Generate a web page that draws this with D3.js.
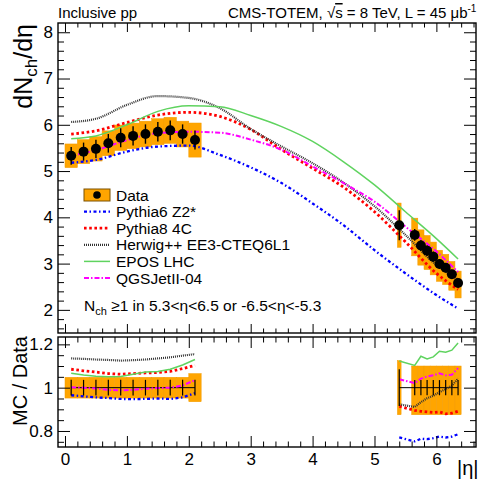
<!DOCTYPE html>
<html>
<head>
<meta charset="utf-8">
<script src="https://cdn.jsdelivr.net/npm/d3@7"></script>
<style>
body { margin: 0; background: #fff; }
text { font-family: "Liberation Sans", Arial, Helvetica, sans-serif; }
</style>
</head>
<body>
<div id="chart"></div>
<script>
// measured data, central region (|eta| < 2.2, bins of 0.2)
var etaCentral = [0.1, 0.3, 0.5, 0.7, 0.9, 1.1, 1.3, 1.5, 1.7, 1.9, 2.1];
var dataCentral = [5.33, 5.42, 5.48, 5.60, 5.72, 5.76, 5.80, 5.85, 5.88, 5.80, 5.67];
var binCentral = [0.2, 0.2, 0.2, 0.2, 0.2, 0.2, 0.2, 0.2, 0.2, 0.2, 0.2];
var sysCentralUp = [0.048, 0.048, 0.048, 0.048, 0.048, 0.048, 0.048, 0.048, 0.048, 0.048, 0.065];
var sysCentralDn = [0.048, 0.048, 0.048, 0.048, 0.048, 0.048, 0.048, 0.048, 0.048, 0.048, 0.065];
var statCentral = [0.036, 0.036, 0.036, 0.036, 0.036, 0.036, 0.036, 0.036, 0.036, 0.036, 0.036];

// measured data, forward region (TOTEM T2)
var etaForward = [5.4, 5.65, 5.75, 5.85, 5.95, 6.05, 6.15, 6.25, 6.35];
var dataForward = [3.83, 3.62, 3.39, 3.28, 3.15, 2.99, 2.91, 2.77, 2.58];
var binForward = [0.06, 0.1, 0.1, 0.1, 0.1, 0.1, 0.1, 0.1, 0.1];
var sysForwardUp = [0.125, 0.10, 0.10, 0.10, 0.10, 0.10, 0.10, 0.10, 0.10];
var sysForwardDn = [0.125, 0.125, 0.125, 0.125, 0.125, 0.125, 0.125, 0.125, 0.125];
var statForward = [0.085, 0.035, 0.035, 0.035, 0.035, 0.035, 0.035, 0.035, 0.035];

// MC predictions, dNch/deta
var etaMC = [0.1, 0.5, 1.0, 1.5, 2.0, 2.5, 3.0, 3.5, 4.0, 4.5, 5.0, 5.5, 6.0, 6.35];
var pythia6 = [5.18, 5.24, 5.42, 5.53, 5.55, 5.35, 5.08, 4.74, 4.30, 3.83, 3.29, 2.79, 2.32, 2.03];
var pythia8 = [5.80, 5.87, 6.05, 6.21, 6.27, 6.18, 5.90, 5.46, 5.06, 4.65, 4.12, 3.47, 2.79, 2.44];
var herwig  = [6.06, 6.13, 6.43, 6.62, 6.58, 6.36, 5.91, 5.53, 5.17, 4.75, 4.24, 3.62, 2.97, 2.66];
var epos    = [5.70, 5.76, 6.00, 6.29, 6.41, 6.39, 6.20, 5.96, 5.64, 5.20, 4.70, 4.12, 3.54, 3.10];
var qgsjet  = [5.33, 5.45, 5.67, 5.82, 5.85, 5.83, 5.68, 5.46, 5.10, 4.74, 4.34, 3.80, 3.26, 2.82];

// MC / Data ratios at the data points
var ratioCentral = {
  pythia6: [0.965, 0.960, 0.955, 0.952, 0.948, 0.947, 0.948, 0.950, 0.948, 0.955, 0.975],
  pythia8: [1.085, 1.078, 1.072, 1.065, 1.062, 1.065, 1.068, 1.070, 1.075, 1.088, 1.103],
  herwig:  [1.135, 1.133, 1.130, 1.128, 1.125, 1.127, 1.130, 1.135, 1.140, 1.148, 1.155],
  epos:    [1.067, 1.058, 1.053, 1.050, 1.052, 1.062, 1.072, 1.075, 1.085, 1.105, 1.130],
  qgsjet:  [1.002, 1.000, 0.996, 0.990, 0.988, 0.990, 0.995, 0.998, 1.000, 1.010, 1.035]
};
var ratioForward = {
  pythia6: [0.770, 0.752, 0.764, 0.762, 0.767, 0.774, 0.770, 0.774, 0.785],
  pythia8: [0.914, 0.895, 0.891, 0.888, 0.885, 0.888, 0.879, 0.882, 0.891],
  herwig:  [0.923, 0.911, 0.933, 0.951, 0.963, 0.979, 0.994, 1.009, 1.042],
  epos:    [1.123, 1.103, 1.145, 1.133, 1.142, 1.168, 1.164, 1.173, 1.206],
  qgsjet:  [1.039, 1.021, 1.042, 1.051, 1.057, 1.066, 1.057, 1.060, 1.090]
};

var yMajor = [2, 3, 4, 5, 6, 7, 8];
var rMajor = [0.8, 1, 1.2];
var xMajor = [0, 1, 2, 3, 4, 5, 6];

var models = [
  {key: "pythia6", name: "Pythia6 Z2*", values: pythia6, color: "#0000ff", width: 2.3, dash: "3,2.5,1.5,2.5"},
  {key: "pythia8", name: "Pythia8 4C", values: pythia8, color: "#ff0000", width: 2.8, dash: "2.6,2.6"},
  {key: "herwig", name: "Herwig++ EE3-CTEQ6L1", values: herwig, color: "#333333", width: 2.2, dash: "1,1"},
  {key: "epos", name: "EPOS LHC", values: epos, color: "#5fd35f", width: 1.5, dash: null},
  {key: "qgsjet", name: "QGSJetII-04", values: qgsjet, color: "#ff00ff", width: 2, dash: "5,2,1.5,2"}
];
var orange = "#ffa500";

var W = 479, H = 484;
var svg = d3.select("#chart").append("svg")
  .attr("width", W)
  .attr("height", H);

var x = d3.scaleLinear().domain([-0.113, 6.64]).range([58, 476]);
var y = d3.scaleLinear().domain([1.5, 8.2]).range([333, 23]);
var yr = d3.scaleLinear().domain([0.726, 1.234]).range([447, 337]);

function minors(lo, hi, step, majors) {
  return d3.range(Math.round(lo / step), Math.round(hi / step) + 1)
    .map(function(k){ return +(k * step).toFixed(3); })
    .filter(function(v){ return majors.indexOf(v) < 0; });
}

var mainG = svg.append("g");
var ratioG = svg.append("g");

// systematic boxes
function boxes(g, eta, vals, bins, up, dn, yscale, ratio) {
  g.selectAll(null)
    .data(eta)
    .enter().append("rect")
    .attr("x", function(d, i){ return x(d - bins[i] / 2); })
    .attr("width", function(d, i){ return x(d + bins[i] / 2) - x(d - bins[i] / 2); })
    .attr("y", function(d, i){ var v = ratio ? 1 : vals[i]; return yscale(v * (1 + up[i])); })
    .attr("height", function(d, i){ var v = ratio ? 1 : vals[i]; return yscale(v * (1 - dn[i])) - yscale(v * (1 + up[i])); })
    .style("fill", orange)
    .style("stroke", "#f39c00")
    .style("stroke-width", 0.5);
}
boxes(mainG, etaCentral, dataCentral, binCentral, sysCentralUp, sysCentralDn, y, false);
boxes(mainG, etaForward, dataForward, binForward, sysForwardUp, sysForwardDn, y, false);

// MC curves
var mcLine = d3.line()
  .x(function(d, i){ return x(etaMC[i]); })
  .y(function(d){ return y(d); })
  .curve(d3.curveMonotoneX);

models.forEach(function(m){
  mainG.append("path")
    .datum(m.values)
    .attr("d", mcLine)
    .style("fill", "none")
    .style("stroke", m.color)
    .style("stroke-width", m.width)
    .style("stroke-dasharray", m.dash);
});

// data points
function points(g, eta, vals, stat) {
  g.selectAll(null)
    .data(eta)
    .enter().append("line")
    .attr("x1", function(d){ return x(d); })
    .attr("x2", function(d){ return x(d); })
    .attr("y1", function(d, i){ return y(vals[i] * (1 - stat[i])); })
    .attr("y2", function(d, i){ return y(vals[i] * (1 + stat[i])); })
    .style("stroke", "#000")
    .style("stroke-width", 1.4);
  g.selectAll(null)
    .data(eta)
    .enter().append("circle")
    .attr("cx", function(d){ return x(d); })
    .attr("cy", function(d, i){ return y(vals[i]); })
    .attr("r", 5)
    .style("fill", "#000");
}
points(mainG, etaCentral, dataCentral, statCentral);
points(mainG, etaForward, dataForward, statForward);

// ratio panel
boxes(ratioG, etaCentral, dataCentral, binCentral, sysCentralUp, sysCentralDn, yr, true);
boxes(ratioG, etaForward, dataForward, binForward, sysForwardUp, sysForwardDn, yr, true);

function ratioLine(eta) {
  return d3.line()
    .x(function(d, i){ return x(eta[i]); })
    .y(function(d){ return yr(d); });
}
[[etaCentral, ratioCentral], [etaForward, ratioForward]].forEach(function(reg){
  var eta = reg[0], rat = reg[1];
  ratioG.append("line")
    .attr("x1", x(eta[0])).attr("x2", x(eta[eta.length - 1]))
    .attr("y1", yr(1)).attr("y2", yr(1))
    .style("stroke", "#000").style("stroke-width", 1);
  models.forEach(function(m){
    ratioG.append("path")
      .datum(rat[m.key])
      .attr("d", ratioLine(eta))
      .style("fill", "none")
      .style("stroke", m.color)
      .style("stroke-width", m.width)
      .style("stroke-dasharray", m.dash);
  });
});
[[etaCentral, statCentral], [etaForward, statForward]].forEach(function(reg){
  ratioG.selectAll(null)
    .data(reg[0])
    .enter().append("line")
    .attr("x1", function(d){ return x(d); })
    .attr("x2", function(d){ return x(d); })
    .attr("y1", function(d, i){ return yr(1 - reg[1][i]); })
    .attr("y2", function(d, i){ return yr(1 + reg[1][i]); })
    .style("stroke", "#000")
    .style("stroke-width", 1.2);
});

// axes and frames
function clean(g) { g.select(".domain").remove(); g.selectAll("line").style("stroke", "#000"); }
function yAxes(scale, majors, step, lo, hi) {
  var mn = minors(lo, hi, step, majors);
  svg.append("g").attr("transform", "translate(58,0)")
    .call(d3.axisLeft(scale).tickValues(majors).tickSizeInner(-12).tickSizeOuter(0).tickPadding(5)
      .tickFormat(function(d){ return d; }))
    .call(clean)
    .attr("font-size", 17).attr("font-family", "Liberation Sans, Arial, sans-serif");
  svg.append("g").attr("transform", "translate(58,0)")
    .call(d3.axisLeft(scale).tickValues(mn).tickSizeInner(-6).tickSizeOuter(0).tickFormat(""))
    .call(clean);
  svg.append("g").attr("transform", "translate(476,0)")
    .call(d3.axisRight(scale).tickValues(majors).tickSizeInner(-12).tickSizeOuter(0).tickFormat(""))
    .call(clean);
  svg.append("g").attr("transform", "translate(476,0)")
    .call(d3.axisRight(scale).tickValues(mn).tickSizeInner(-6).tickSizeOuter(0).tickFormat(""))
    .call(clean);
}
yAxes(y, yMajor, 0.2, 1.6, 8.0);
yAxes(yr, rMajor, 0.05, 0.75, 1.2);

var xMinor = minors(0, 6.6, 0.2, xMajor);
function xAxis(yPos, gen, size, labels) {
  svg.append("g").attr("transform", "translate(0," + yPos + ")")
    .call(gen(x).tickValues(xMajor).tickSizeInner(-size).tickSizeOuter(0).tickPadding(6)
      .tickFormat(labels ? function(d){ return d; } : ""))
    .call(clean)
    .attr("font-size", 17).attr("font-family", "Liberation Sans, Arial, sans-serif");
  svg.append("g").attr("transform", "translate(0," + yPos + ")")
    .call(gen(x).tickValues(xMinor).tickSizeInner(-size / 2).tickSizeOuter(0).tickFormat(""))
    .call(clean);
}
xAxis(23, d3.axisTop, 9, false);
xAxis(333, d3.axisBottom, 9, false);
xAxis(337, d3.axisTop, 11, false);
xAxis(447, d3.axisBottom, 11, true);

svg.append("rect").attr("x", 58).attr("y", 23).attr("width", 418).attr("height", 310)
  .style("fill", "none").style("stroke", "#000").style("stroke-width", 1.4);
svg.append("rect").attr("x", 58).attr("y", 337).attr("width", 418).attr("height", 110)
  .style("fill", "none").style("stroke", "#000").style("stroke-width", 1.4);

// titles
svg.append("text").attr("x", 58).attr("y", 18).style("font-size", "15px").text("Inclusive pp");
var hdr = svg.append("text").attr("x", 228).attr("y", 18).style("font-size", "15px");
hdr.append("tspan").text("CMS-TOTEM, √");
hdr.append("tspan").style("text-decoration", "overline").text("s");
hdr.append("tspan").text(" = 8 TeV, L = 45 μb");
hdr.append("tspan").attr("dy", -6).style("font-size", "10px").text("-1");

var yt = svg.append("text")
  .attr("transform", "translate(32,24) rotate(-90)")
  .style("text-anchor", "end").style("font-size", "25px");
yt.append("tspan").text("dN");
yt.append("tspan").attr("dy", 5).style("font-size", "17px").text("ch");
yt.append("tspan").attr("dy", -5).text("/dη");

svg.append("text")
  .attr("transform", "translate(27,336) rotate(-90)")
  .style("text-anchor", "end").style("font-size", "20px")
  .text("MC / Data");

svg.append("text").attr("x", 457).attr("y", 475).style("font-size", "20px").text("|η|");

// legend
var leg = svg.append("g");
var legY = d3.scaleLinear().domain([0, 1]).range([195, 211.6]);
leg.append("rect").attr("x", 84).attr("y", legY(0) - 6).attr("width", 26).attr("height", 12)
  .style("fill", orange).style("stroke", "#7a5000").style("stroke-width", 1);
leg.append("circle").attr("cx", 97).attr("cy", legY(0)).attr("r", 3.8).style("fill", "#000");
leg.append("text").attr("x", 116).attr("y", legY(0) + 5.5).style("font-size", "15.5px").text("Data");
models.forEach(function(m, i){
  leg.append("line")
    .attr("x1", 84).attr("x2", 110)
    .attr("y1", legY(i + 1)).attr("y2", legY(i + 1))
    .style("stroke", m.color)
    .style("stroke-width", m.width)
    .style("stroke-dasharray", m.dash);
  leg.append("text").attr("x", 116).attr("y", legY(i + 1) + 5.5)
    .style("font-size", "15.5px").text(m.name);
});
var note = svg.append("text").attr("x", 84).attr("y", 311).style("font-size", "15.5px");
note.append("tspan").text("N");
note.append("tspan").attr("dy", 4).style("font-size", "11px").text("ch");
note.append("tspan").attr("dy", -4).text(" ≥1 in 5.3<η<6.5 or -6.5<η<-5.3");
</script>
</body>
</html>
